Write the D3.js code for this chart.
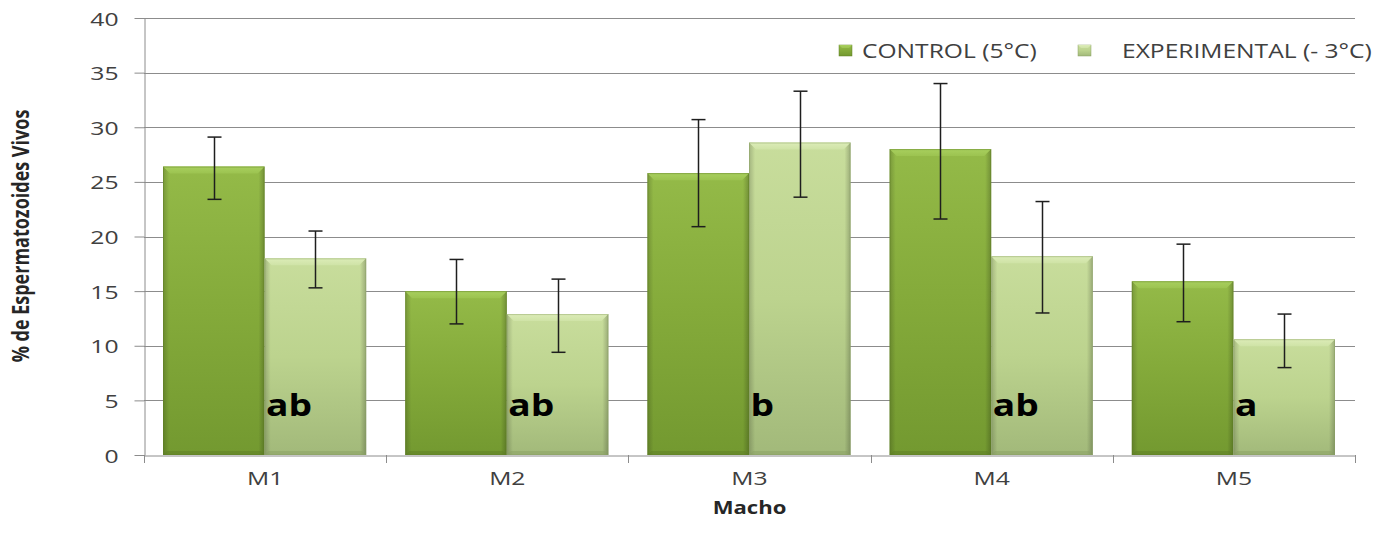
<!DOCTYPE html>
<html><head><meta charset="utf-8">
<script src="https://cdn.jsdelivr.net/npm/d3@7/dist/d3.min.js"></script>
<style>html,body{margin:0;padding:0;background:#fff;}svg{display:block;}</style>
</head><body>
<svg id="chart" width="1387" height="544"></svg>
<script>
const categories = ["M1","M2","M3","M4","M5"];
const seriesNames = ["CONTROL (5°C)","EXPERIMENTAL (- 3°C)"];
const controlValues = [26.4, 15.0, 25.8, 28.0, 15.9];
const controlLow    = [23.4, 12.0, 20.9, 21.6, 12.2];
const controlHigh   = [29.1, 17.9, 30.7, 34.0, 19.3];
const expValues     = [18.0, 12.9, 28.6, 18.2, 10.6];
const expLow        = [15.3,  9.4, 23.6, 13.0,  8.0];
const expHigh       = [20.5, 16.1, 33.3, 23.2, 12.9];
const letters       = ["ab","ab","b","ab","a"];
const yTicks        = [0,5,10,15,20,25,30,35,40];

(function(){
const SX = 1.3; // horizontal stretch of the original picture's text
const FONT = "'Open Sans', sans-serif";

const svg = d3.select("#chart");
const pLeft = 144, pRight = 1355, pTop = 18, pBottom = 455;

const y = d3.scaleLinear().domain([0,40]).range([pBottom, pTop]);
const x0 = d3.scaleBand().domain(categories).range([pLeft, pRight]).padding(0);
const x1 = d3.scaleBand().domain(seriesNames).range([19, x0.bandwidth()-20]).padding(0);

const defs = svg.append("defs");
function vgrad(id, stops){
  const g = defs.append("linearGradient").attr("id", id).attr("x1",0).attr("y1",0).attr("x2",0).attr("y2",1);
  stops.forEach(s => g.append("stop").attr("offset", s[0]).attr("stop-color", s[1]));
}
function hgrad(id, stops){
  const g = defs.append("linearGradient").attr("id", id).attr("x1",0).attr("y1",0).attr("x2",1).attr("y2",0);
  stops.forEach(s => g.append("stop").attr("offset", s[0]).attr("stop-color", s[1]).attr("stop-opacity", s[2]));
}
vgrad("gC", [[0,"#94ba48"],[0.5,"#84aa3a"],[1,"#739930"]]);
vgrad("gE", [[0,"#c8dd9c"],[0.5,"#bcd38e"],[1,"#a2b97a"]]);
hgrad("gEdge", [[0,"#000",0.18],[0.06,"#000",0.0],[0.94,"#000",0.0],[1,"#000",0.22]]);
vgrad("gCL", [[0,"#a8cf5e"],[1,"#9cc350"]]);
vgrad("gEL", [[0,"#dcecb8"],[1,"#cfe3a6"]]);

const colors = {
  "CONTROL (5°C)": {fill:"url(#gC)", light:"url(#gCL)", stroke:"#5f7f26", dark:"#5e7e25"},
  "EXPERIMENTAL (- 3°C)": {fill:"url(#gE)", light:"url(#gEL)", stroke:"#8aa064", dark:"#8aa064"}
};

// gridlines
svg.append("g").selectAll("line").data(yTicks.filter(d=>d>0)).join("line")
  .attr("x1", pLeft).attr("x2", pRight)
  .attr("y1", d=>Math.round(y(d))+0.5).attr("y2", d=>Math.round(y(d))+0.5)
  .attr("stroke", "#8c8c8c").attr("stroke-width", 1);

// y axis
const yAxis = svg.append("g").attr("transform", `translate(${pLeft+0.5},0)`)
  .call(d3.axisLeft(y).tickValues(yTicks).tickSize(10).tickSizeOuter(0).tickFormat(d=>d));
yAxis.select(".domain").attr("stroke", "#8c8c8c");
yAxis.selectAll(".tick line").attr("stroke", "#8c8c8c");
yAxis.selectAll(".tick text").attr("x", null).attr("dy", null)
  .attr("text-anchor", "end")
  .attr("transform", `translate(-26,7) scale(${SX},1)`)
  .attr("fill", "#404040").attr("font-family", FONT).attr("font-size", 19);

// x axis
const xAxis = svg.append("g").attr("transform", `translate(0,${pBottom+0.5})`)
  .call(d3.axisBottom(x0).tickSize(0).tickSizeOuter(0));
xAxis.select(".domain").attr("stroke", "#8c8c8c");
xAxis.selectAll(".tick text").attr("y", null).attr("dy", null)
  .attr("transform", `translate(0,29) scale(${SX},1)`)
  .attr("fill", "#404040").attr("font-family", FONT).attr("font-size", 19);
// category boundary ticks
const bounds = categories.map(c => x0(c)).concat([x0(categories[categories.length-1]) + x0.bandwidth()]);
svg.append("g").selectAll("line").data(bounds).join("line")
  .attr("x1", d=>Math.round(d)+0.5).attr("x2", d=>Math.round(d)+0.5)
  .attr("y1", pBottom).attr("y2", pBottom+8)
  .attr("stroke", "#8c8c8c");

// bars
const rows = categories.map((c,i) => [
  {cat:c, s:seriesNames[0], v:controlValues[i], lo:controlLow[i], hi:controlHigh[i]},
  {cat:c, s:seriesNames[1], v:expValues[i], lo:expLow[i], hi:expHigh[i]}
]).flat();

const bw = x1.bandwidth();
const bev = 7;
const barG = svg.append("g");
rows.forEach(d => {
  const bx = x0(d.cat) + x1(d.s), by = y(d.v), bh = pBottom - by;
  const c = colors[d.s];
  const g = barG.append("g");
  g.append("rect").attr("x", bx).attr("y", by).attr("width", bw).attr("height", bh)
    .attr("fill", c.fill);
  g.append("rect").attr("x", bx).attr("y", by).attr("width", bw).attr("height", bh)
    .attr("fill", "url(#gEdge)");
  g.append("polygon").attr("points", [[bx,by],[bx+bw,by],[bx+bw-bev,by+bev],[bx+bev,by+bev]].map(p=>p.join(",")).join(" "))
    .attr("fill", c.light);
  g.append("polygon").attr("points", [[bx,pBottom],[bx+bw,pBottom],[bx+bw-4,pBottom-4],[bx+4,pBottom-4]].map(p=>p.join(",")).join(" "))
    .attr("fill", c.dark).attr("opacity", 0.5);
  g.append("rect").attr("x", bx+0.5).attr("y", by+0.5).attr("width", bw-1).attr("height", bh-1)
    .attr("fill", "none").attr("stroke", c.stroke).attr("stroke-opacity", 0.45);
});

// error bars
const errG = svg.append("g").attr("stroke", "#1e1e1e").attr("stroke-width", 1.5);
rows.forEach(d => {
  const cx = Math.round(x0(d.cat) + x1(d.s) + bw/2) + 0.5;
  errG.append("line").attr("x1", cx).attr("x2", cx).attr("y1", y(d.hi)).attr("y2", y(d.lo));
  [d.hi, d.lo].forEach(v => errG.append("line").attr("x1", cx-7).attr("x2", cx+7).attr("y1", y(v)).attr("y2", y(v)));
});

// significance letters
svg.append("g").selectAll("text").data(categories).join("text")
  .attr("transform", (c) => `translate(${x0(c) + x0.bandwidth()/2 + 1},416) scale(1.2,1)`)
  .attr("font-family", FONT).attr("font-weight", 700).attr("font-size", 31)
  .attr("fill", "#000").text((c,i) => letters[i]);

// axis titles
svg.append("text").attr("transform", `translate(${(pLeft+pRight)/2},514) scale(${SX},1)`)
  .attr("text-anchor", "middle").attr("font-family", FONT).attr("font-weight", 700)
  .attr("font-size", 17).attr("fill", "#262626").text("Macho");
svg.append("text").attr("transform", `translate(29,236) scale(${SX},1) rotate(-90)`)
  .attr("text-anchor", "middle").attr("font-family", FONT).attr("font-weight", 700)
  .attr("font-size", 18).attr("fill", "#262626").text("% de Espermatozoides Vivos");

// legend
const legend = svg.append("g");
const legX = [839, 1078], legTX = [862, 1122];
seriesNames.forEach((s,i) => {
  const c = colors[s];
  legend.append("rect").attr("x", legX[i]).attr("y", 45).attr("width", 13).attr("height", 11)
    .attr("fill", c.fill).attr("stroke", c.stroke).attr("stroke-width", 0.5);
  legend.append("polygon").attr("points", [[legX[i],45],[legX[i]+13,45],[legX[i]+10,48],[legX[i]+3,48]].map(p=>p.join(",")).join(" "))
    .attr("fill", c.light);
  legend.append("text").attr("transform", `translate(${legTX[i]},58) scale(1.2,1)`)
    .attr("font-family", FONT).attr("font-size", 20.5).attr("fill", "#404040").text(s);
});
})();
</script>
</body></html>
